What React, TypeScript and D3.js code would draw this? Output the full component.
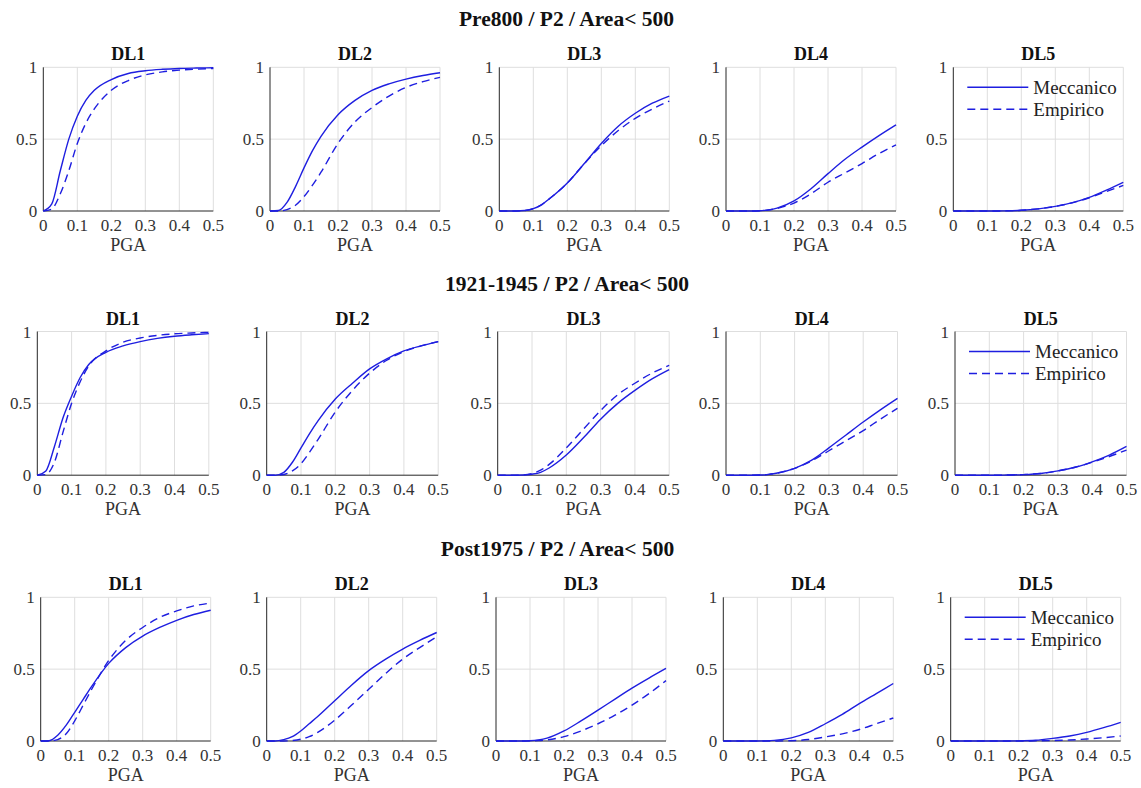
import React from "react";
import * as d3 from "d3";

// ---------- data ----------
const PGA = [0, 0.025, 0.05, 0.075, 0.1, 0.125, 0.15, 0.2, 0.25, 0.3, 0.35, 0.4, 0.45, 0.5];
const X_TICKS = [0, 0.1, 0.2, 0.3, 0.4, 0.5];
const Y_TICKS = [0, 0.5, 1];
const DL_LABELS = ["DL1", "DL2", "DL3", "DL4", "DL5"];
const ROW_TITLES = ["Pre800 / P2 / Area< 500", "1921-1945 / P2 / Area< 500", "Post1975 / P2 / Area< 500"];
const SERIES_NAMES = ["Meccanico", "Empirico"];
const X_LABEL = "PGA";

const pre800Meccanico = [
  [0, 0.05, 0.28, 0.5, 0.66, 0.77, 0.84, 0.915, 0.957, 0.976, 0.986, 0.992, 0.995, 0.997],
  [0, 0.003, 0.06, 0.17, 0.3, 0.42, 0.52, 0.67, 0.77, 0.84, 0.885, 0.918, 0.943, 0.962],
  [0, 0, 0, 0.003, 0.016, 0.045, 0.09, 0.195, 0.33, 0.47, 0.59, 0.68, 0.75, 0.8],
  [0, 0, 0, 0, 0.002, 0.008, 0.02, 0.07, 0.155, 0.26, 0.36, 0.445, 0.525, 0.6],
  [0, 0, 0, 0, 0, 0, 0.001, 0.005, 0.015, 0.032, 0.058, 0.095, 0.145, 0.2],
];
const pre800Empirico = [
  [0, 0.014, 0.12, 0.28, 0.47, 0.61, 0.71, 0.84, 0.908, 0.947, 0.968, 0.98, 0.987, 0.992],
  [0, 0, 0.01, 0.04, 0.1, 0.18, 0.27, 0.47, 0.62, 0.72, 0.8, 0.86, 0.9, 0.93],
  [0, 0, 0, 0.003, 0.016, 0.045, 0.09, 0.195, 0.33, 0.455, 0.56, 0.645, 0.71, 0.765],
  [0, 0, 0, 0, 0.002, 0.007, 0.018, 0.055, 0.12, 0.2, 0.265, 0.33, 0.4, 0.46],
  [0, 0, 0, 0, 0, 0, 0.001, 0.005, 0.015, 0.032, 0.057, 0.092, 0.135, 0.178],
];
const y1921Meccanico = [
  [0, 0.03, 0.2, 0.4, 0.55, 0.68, 0.77, 0.855, 0.9, 0.93, 0.952, 0.967, 0.977, 0.985],
  [0, 0, 0.02, 0.09, 0.19, 0.29, 0.38, 0.53, 0.64, 0.74, 0.81, 0.865, 0.9, 0.93],
  [0, 0, 0, 0.001, 0.007, 0.02, 0.05, 0.14, 0.26, 0.39, 0.5, 0.59, 0.67, 0.735],
  [0, 0, 0, 0, 0.001, 0.006, 0.015, 0.048, 0.105, 0.19, 0.28, 0.37, 0.455, 0.535],
  [0, 0, 0, 0, 0, 0, 0.001, 0.004, 0.012, 0.03, 0.055, 0.093, 0.14, 0.2],
];
const y1921Empirico = [
  [0, 0.005, 0.09, 0.3, 0.5, 0.65, 0.76, 0.865, 0.925, 0.955, 0.973, 0.984, 0.99, 0.994],
  [0, 0, 0.005, 0.03, 0.08, 0.16, 0.25, 0.44, 0.59, 0.71, 0.8, 0.86, 0.9, 0.93],
  [0, 0, 0, 0.002, 0.012, 0.035, 0.075, 0.19, 0.32, 0.45, 0.56, 0.64, 0.71, 0.765],
  [0, 0, 0, 0, 0.001, 0.006, 0.015, 0.048, 0.1, 0.17, 0.24, 0.31, 0.39, 0.465],
  [0, 0, 0, 0, 0, 0, 0.001, 0.004, 0.012, 0.03, 0.055, 0.09, 0.13, 0.175],
];
const post1975Meccanico = [
  [0, 0.002, 0.04, 0.11, 0.2, 0.29, 0.38, 0.54, 0.65, 0.73, 0.79, 0.84, 0.88, 0.91],
  [0, 0, 0.01, 0.03, 0.07, 0.12, 0.17, 0.28, 0.39, 0.49, 0.57, 0.64, 0.7, 0.755],
  [0, 0, 0, 0, 0.002, 0.008, 0.02, 0.07, 0.14, 0.215, 0.292, 0.368, 0.438, 0.505],
  [0, 0, 0, 0, 0, 0.001, 0.004, 0.022, 0.06, 0.12, 0.185, 0.26, 0.33, 0.4],
  [0, 0, 0, 0, 0, 0, 0, 0.001, 0.005, 0.018, 0.035, 0.06, 0.093, 0.13],
];
const post1975Empirico = [
  [0, 0, 0.01, 0.05, 0.14, 0.25, 0.36, 0.56, 0.7, 0.79, 0.86, 0.905, 0.94, 0.96],
  [0, 0, 0, 0.003, 0.012, 0.03, 0.06, 0.145, 0.25, 0.36, 0.47, 0.57, 0.65, 0.725],
  [0, 0, 0, 0, 0.001, 0.003, 0.008, 0.03, 0.07, 0.12, 0.18, 0.25, 0.33, 0.42],
  [0, 0, 0, 0, 0, 0, 0, 0.002, 0.01, 0.028, 0.05, 0.08, 0.12, 0.16],
  [0, 0, 0, 0, 0, 0, 0, 0, 0.001, 0.003, 0.007, 0.014, 0.023, 0.035],
];

const ROW_DATA = [
  [pre800Meccanico, pre800Empirico],
  [y1921Meccanico, y1921Empirico],
  [post1975Meccanico, post1975Empirico],
];

// ---------- layout ----------
const W = 1141;
const H = 788;
const ROW_TOP = [67.3, 331.5, 597.3];
const ROW_LEFT = [
  [43.3, 270, 499.3, 726, 953.3],
  [37.3, 266.7, 497.7, 726, 955],
  [40.7, 266.7, 496, 723.3, 950.7],
];
const ROW_WIDTH = [170, 171.5, 170];
const PANEL_H = 143.7;
const ROW_TITLE_X = [566.5, 567, 557.5];

const LINE_COLOR = "#1e1ee0";
const GRID_COLOR = "#dedede";
const AXIS_COLOR = "#262626";
const FONT = "Liberation Serif, Tinos, Times New Roman, Times, DejaVu Serif, serif";

function Panel({ left, top, width, rowIdx, colIdx }) {
  const x = d3.scaleLinear().domain([0, 0.5]).range([left, left + width]);
  const y = d3.scaleLinear().domain([0, 1]).range([top + PANEL_H, top]);
  const line = d3
    .line<number>()
    .x((_, i) => x(PGA[i]))
    .y((d) => y(d))
    .curve(d3.curveMonotoneX);
  const [mec, emp] = ROW_DATA[rowIdx];
  const showLegend = colIdx === 4;
  const txt = { fontFamily: FONT };
  return (
    <g>
      {X_TICKS.filter((t) => t > 0).map((t) => (
        <line key={"gx" + t} x1={x(t)} x2={x(t)} y1={y(0)} y2={y(1)} stroke={GRID_COLOR} strokeWidth={1} />
      ))}
      {Y_TICKS.filter((t) => t > 0).map((t) => (
        <line key={"gy" + t} x1={x(0)} x2={x(0.5)} y1={y(t)} y2={y(t)} stroke={GRID_COLOR} strokeWidth={1} />
      ))}
      <line x1={x(0)} x2={x(0.5)} y1={y(0)} y2={y(0)} stroke={AXIS_COLOR} strokeWidth={1} />
      <line x1={x(0)} x2={x(0)} y1={y(0)} y2={y(1)} stroke={AXIS_COLOR} strokeWidth={1} />
      <path d={line(emp[colIdx]) || ""} fill="none" stroke={LINE_COLOR} strokeWidth={1.4} strokeDasharray="8,5" />
      <path d={line(mec[colIdx]) || ""} fill="none" stroke={LINE_COLOR} strokeWidth={1.4} />
      {X_TICKS.map((t) => (
        <text key={"xt" + t} x={x(t)} y={y(0) + 20} textAnchor="middle" fontSize={17} style={txt} fill="#333">
          {String(t)}
        </text>
      ))}
      {Y_TICKS.map((t) => (
        <text key={"yt" + t} x={x(0) - 6} y={y(t) + 6} textAnchor="end" fontSize={17} style={txt} fill="#333">
          {String(t)}
        </text>
      ))}
      <text x={(x(0) + x(0.5)) / 2} y={top - 7} textAnchor="middle" fontSize={18} fontWeight="bold" style={txt} fill="#111">
        {DL_LABELS[colIdx]}
      </text>
      <text x={(x(0) + x(0.5)) / 2} y={y(0) + 40} textAnchor="middle" fontSize={18} style={txt} fill="#333">
        {X_LABEL}
      </text>
      {showLegend && (
        <g>
          <line x1={left + 14} x2={left + 75} y1={top + 20} y2={top + 20} stroke={LINE_COLOR} strokeWidth={1.4} />
          <text x={left + 80} y={top + 26.5} fontSize={19} style={txt} fill="#222">
            {SERIES_NAMES[0]}
          </text>
          <line x1={left + 14} x2={left + 75} y1={top + 42} y2={top + 42} stroke={LINE_COLOR} strokeWidth={1.4} strokeDasharray="8,5" />
          <text x={left + 80} y={top + 48.5} fontSize={19} style={txt} fill="#222">
            {SERIES_NAMES[1]}
          </text>
        </g>
      )}
    </g>
  );
}

export default function App() {
  return (
    <svg width={W} height={H} style={{ position: "absolute", left: 0, top: 0, background: "#fff" }}>
      <rect x={0} y={0} width={W} height={H} fill="#fff" />
      {ROW_TITLES.map((t, r) => (
        <text key={t} x={ROW_TITLE_X[r]} y={ROW_TOP[r] - 41} textAnchor="middle" fontSize={21.5} fontWeight="bold" style={{ fontFamily: FONT }} fill="#111">
          {t}
        </text>
      ))}
      {ROW_TITLES.map((_, r) =>
        DL_LABELS.map((_, c) => (
          <Panel key={r + "-" + c} left={ROW_LEFT[r][c]} top={ROW_TOP[r]} width={ROW_WIDTH[r]} rowIdx={r} colIdx={c} />
        ))
      )}
    </svg>
  );
}
